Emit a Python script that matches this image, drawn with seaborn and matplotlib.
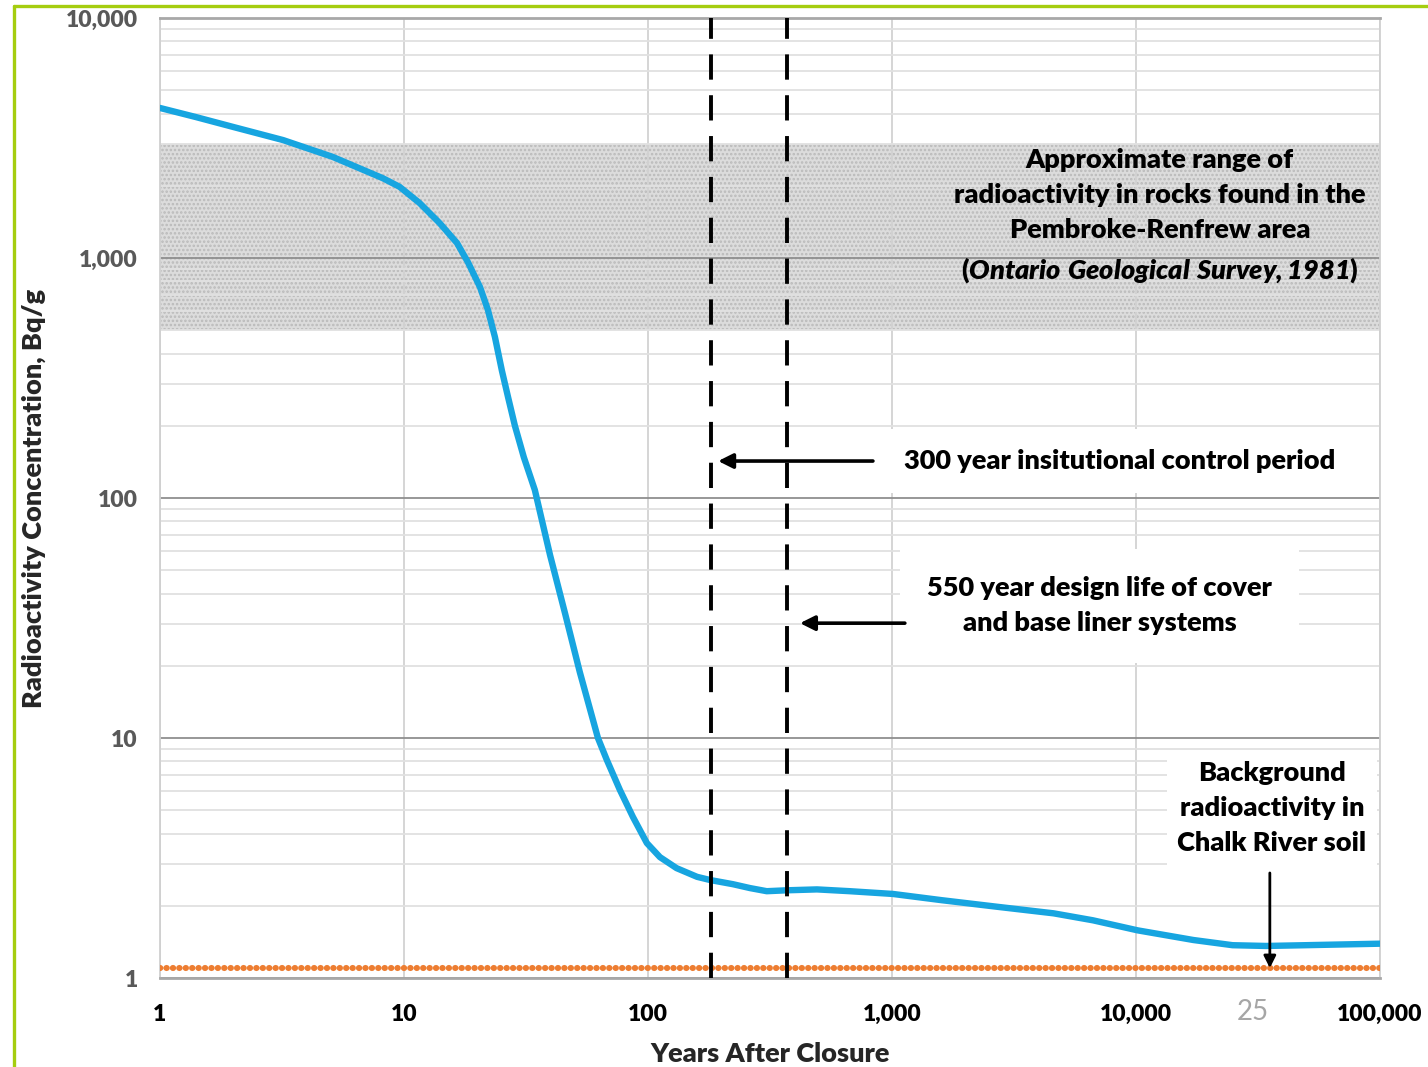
import numpy as np
import pandas as pd
import matplotlib as mpl
import matplotlib.pyplot as plt
import seaborn as sns
from matplotlib.lines import Line2D

# decay curve
years = [1, 1.4, 2, 3.2, 5.1, 8.2, 9.6, 11.6, 14.0, 16.5, 18.3, 20.5, 22.1, 23.6,
         25.2, 26.7, 28.5, 31, 34.4, 39.7, 45.7, 52.6, 62.4, 67.9, 76.8, 86.8, 99,
         112, 131, 159, 180, 223, 262, 307, 371, 493, 673, 1010, 1600, 2710, 4600,
         6660, 10160, 17200, 24900, 34200, 49500, 100000]
conc = [4220, 3870, 3515, 3100, 2640, 2150, 1980, 1694, 1399, 1155, 960, 757, 607,
        469, 340, 264, 200, 148, 108, 57.9, 33.2, 18.8, 10, 8.09, 6.07, 4.69, 3.65,
        3.19, 2.87, 2.64, 2.56, 2.46, 2.37, 2.30, 2.32, 2.34, 2.30, 2.24, 2.11, 1.98,
        1.86, 1.74, 1.58, 1.44, 1.37, 1.36, 1.37, 1.39]

bg_years = [1, 100000]
bg_level = [1.1, 1.1]

rock_low, rock_high = 500, 3000
control_years = [182, 370]

x_ticks = [1, 10, 100, 1000, 10000, 100000]
x_labels = ["1", "10", "100", "1,000", "10,000", "100,000"]
y_ticks = [1, 10, 100, 1000, 10000]
y_labels = ["1", "10", "100", "1,000", "10,000"]

sns.set_style("white")
plt.rcParams['font.family'] = ['Lato', 'DejaVu Sans']
plt.rcParams['mathtext.fontset'] = 'custom'
plt.rcParams['mathtext.it'] = 'Lato:italic:heavy'
plt.rcParams['mathtext.rm'] = 'Lato:italic:heavy'
plt.rcParams['hatch.linewidth'] = 1.2

fig = plt.figure(figsize=(14.28, 10.67), dpi=100)
ax = fig.add_axes([0.1120, 0.0834, 0.8543, 0.8997])
ax.set_xscale('log')
ax.set_yscale('log')
ax.set_xlim(1, 100000)
ax.set_ylim(1, 10000)

# speckled band for the rock range
ax.axhspan(rock_low, rock_high, facecolor='#dcdcdc', edgecolor='#bababa',
           hatch='....', linewidth=0, zorder=0.2)

ax.set_axisbelow(True)
ax.grid(True, which='major', axis='y', color='#8f8f8f', lw=1.3)
ax.grid(True, which='minor', axis='y', color='#e1e1e1', lw=1.3)
ax.grid(True, which='major', axis='x', color='#d2d2d2', lw=1.3)
ax.yaxis.set_minor_locator(mpl.ticker.LogLocator(base=10, subs=np.arange(2, 10)))
ax.xaxis.set_minor_locator(mpl.ticker.NullLocator())

sns.lineplot(x=bg_years, y=bg_level, ax=ax, color='#ED7D31', lw=4.4,
             linestyle=(0, (0.05, 1.0)), dash_capstyle='round', zorder=3)
sns.lineplot(x=years, y=conc, ax=ax, color='#17A5E0', lw=4.6, zorder=4)

for cy in control_years:
    ax.axvline(cy, color='black', lw=2.8, ls=(0, (6.5, 4)), zorder=5)

ax.set_xticks(x_ticks)
ax.set_xticklabels(x_labels, fontsize=16.5, fontweight='heavy', color='black')
ax.set_yticks(y_ticks)
ax.set_yticklabels(y_labels, fontsize=16.5, fontweight='heavy', color='#595959')
ax.tick_params(which='both', length=0, pad=16)
ax.tick_params(axis='x', pad=19)

ax.set_xlabel("Years After Closure", fontsize=19.5, fontweight='heavy', labelpad=12)
ax.set_ylabel("Radioactivity Concentration, Bq/g", fontsize=19.5, fontweight='heavy',
              labelpad=14)

for side in ['top', 'bottom']:
    ax.spines[side].set_color('#a8a8a8')
    ax.spines[side].set_linewidth(2)
for side in ['left', 'right']:
    ax.spines[side].set_color('#d0d0d0')
    ax.spines[side].set_linewidth(1.3)

txt = dict(fontsize=19.5, fontweight='heavy', color='black', ha='center', va='center',
           linespacing=1.55, zorder=6)

ax.text(12540, 1489, "Approximate range of\nradioactivity in rocks found in the\n"
        "Pembroke-Renfrew area\n($\\mathit{Ontario\\ Geological\\ Survey,1981}$)",
        **txt)

ax.text(8600, 142.6, "300 year insitutional control period",
        bbox=dict(boxstyle='square,pad=0.75', fc='white', ec='none'), **txt)
ax.annotate("", xy=(194, 142.6), xytext=(836, 142.6),
            arrowprops=dict(arrowstyle='-|>', lw=2.6, color='black',
                            mutation_scale=22, shrinkA=0, shrinkB=0), zorder=6)

ax.text(7120, 35.5, "550 year design life of cover\nand base liner systems",
        bbox=dict(boxstyle='square,pad=1.0', fc='white', ec='none'), **txt)
ax.annotate("", xy=(420, 30.1), xytext=(1130, 30.1),
            arrowprops=dict(arrowstyle='-|>', lw=2.6, color='black',
                            mutation_scale=22, shrinkA=0, shrinkB=0), zorder=6)

ax.text(36100, 5.1, "Background\nradioactivity in\nChalk River soil",
        bbox=dict(boxstyle='square,pad=0.4', fc='white', ec='none'), **txt)
ax.annotate("", xy=(35400, 1.1), xytext=(35400, 2.74),
            arrowprops=dict(arrowstyle='-|>', lw=2.0, color='black',
                            mutation_scale=18, shrinkA=0, shrinkB=0), zorder=6)

# slide number and green frame of the slide
fig.text(0.877, 0.052, "25", fontsize=20, color='#a6a6a6', ha='center', va='center')
fig.add_artist(Line2D([0.0098, 1.0], [0.9944, 0.9944], color='#A5CD0F', lw=2.4))
fig.add_artist(Line2D([0.0098, 0.0098], [0.0, 0.9944], color='#A5CD0F', lw=2.4))

fig.savefig("out.png", dpi=100)
